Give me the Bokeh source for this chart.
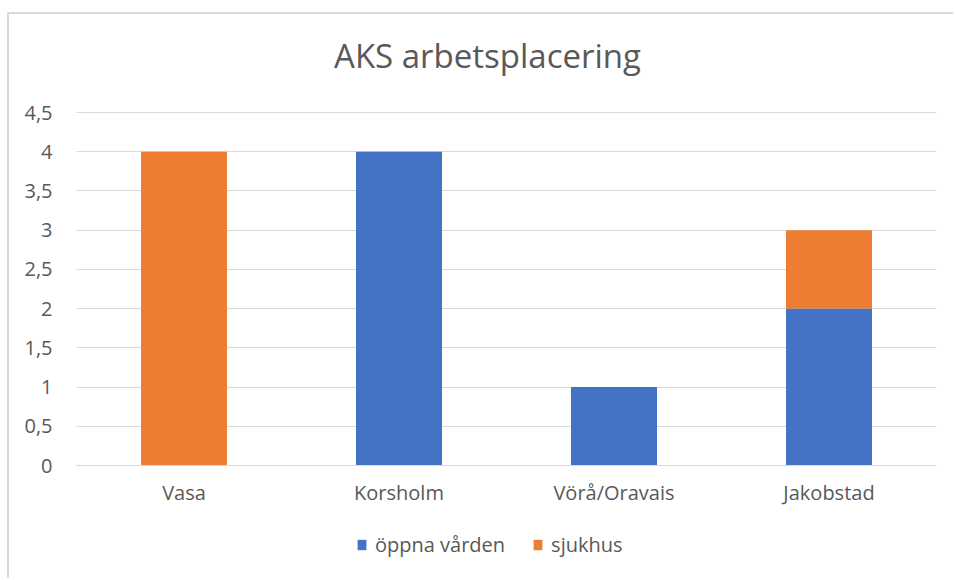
from bokeh.plotting import figure
from bokeh.models import Range1d, FactorRange, Legend, LegendItem, Label, ColumnDataSource, FixedTicker
from bokeh.embed import file_html
from bokeh.resources import INLINE

categories = ["Vasa", "Korsholm", "Vörå/Oravais", "Jakobstad"]
series_names = ["öppna vården", "sjukhus"]
oppna_varden = [0, 4, 1, 2]
sjukhus = [4, 0, 0, 1]
colors = ["#4472C4", "#ED7D31"]
y_ticks = [0, 0.5, 1, 1.5, 2, 2.5, 3, 3.5, 4, 4.5]
y_tick_labels = ["0", "0,5", "1", "1,5", "2", "2,5", "3", "3,5", "4", "4,5"]
title_text = "AKS arbetsplacering"

FONT = "Open Sans"
GRAY = "#595959"

# layout geometry (pixels)
W, H = 946, 566
B_LEFT, B_RIGHT, B_TOP, B_BOTTOM = 67, 19, 4, 4
frame_h = H - B_TOP - B_BOTTOM
px_per_unit = 353 / 4.5          # plot area: value 0..4.5 spans 353 px
above_px = 94                     # frame room above the 4.5 line (title)
below_px = frame_h - above_px - 353   # frame room below the 0 line (labels, legend)
y_top = 4.5 + above_px / px_per_unit
y_bottom = -below_px / px_per_unit

p = figure(width=W, height=H, x_range=FactorRange(*categories), y_range=Range1d(y_bottom, y_top),
           output_backend="svg", toolbar_location=None,
           min_border_left=B_LEFT, min_border_top=B_TOP, min_border_right=B_RIGHT, min_border_bottom=B_BOTTOM)
p.styles = {"border-top": "2px solid #d9d9d9", "border-left": "2px solid #d9d9d9",
            "margin-left": "7px", "margin-top": "12px"}
p.outline_line_color = None
p.background_fill_color = "white"
p.border_fill_color = "white"

src = ColumnDataSource(dict(cat=categories, oppna=oppna_varden, sjuk=sjukhus))
r = p.vbar_stack(["oppna", "sjuk"], x="cat", width=0.4, source=src, color=colors, line_color=None)

# axes
p.yaxis.ticker = FixedTicker(ticks=y_ticks)
p.yaxis.major_label_overrides = {t: l for t, l in zip(y_ticks, y_tick_labels)}
p.yaxis.axis_line_color = None
p.yaxis.major_tick_line_color = None
p.yaxis.minor_tick_line_color = None
p.yaxis.major_label_standoff = 18
p.yaxis.major_label_text_font = FONT
p.yaxis.major_label_text_font_size = "20px"
p.yaxis.major_label_text_color = GRAY

p.xaxis.fixed_location = 0
p.xaxis.axis_line_color = "#d9d9d9"
p.xaxis.major_tick_line_color = None
p.xaxis.minor_tick_line_color = None
p.xaxis.major_label_standoff = 7
p.xaxis.major_label_text_font = FONT
p.xaxis.major_label_text_font_size = "20px"
p.xaxis.major_label_text_color = GRAY

p.xgrid.grid_line_color = None
p.ygrid.grid_line_color = "#d9d9d9"
p.ygrid.grid_line_width = 1

# title (centred over the chart area)
p.add_layout(Label(x=2.0, y=4.5, x_offset=-19, y_offset=57, text=title_text,
                   text_font=FONT, text_font_size="33px", text_color=GRAY,
                   text_align="center", text_baseline="middle"))

legend = Legend(items=[LegendItem(label=series_names[i], renderers=[r[i]]) for i in range(2)],
                orientation="horizontal", location=(280, 18), padding=0, margin=0,
                glyph_width=11, glyph_height=13, label_standoff=8, spacing=27,
                label_text_font=FONT, label_text_font_size="20px", label_text_color=GRAY,
                border_line_color=None, background_fill_alpha=0)
p.add_layout(legend, "center")

open("out.html", "w").write(file_html(p, INLINE))
